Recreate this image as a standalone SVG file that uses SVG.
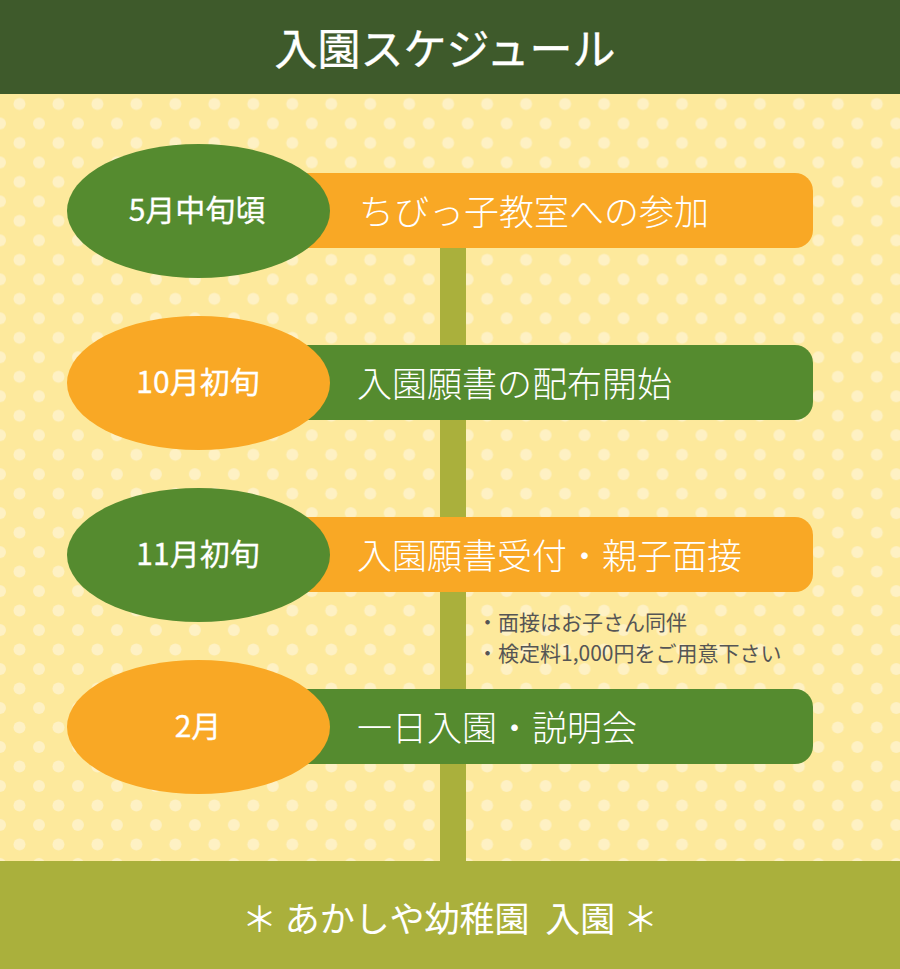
<svg xmlns="http://www.w3.org/2000/svg" width="900" height="969" viewBox="0 0 900 969">
<defs>
<pattern id="dots" patternUnits="userSpaceOnUse" x="0" y="84.5" width="38.97" height="38.97">
<rect width="39" height="39" fill="#fde99c"/>
<circle cx="19.485" cy="19.485" r="6" fill="#fef1c4"/>
<circle cx="0" cy="0" r="6" fill="#fef1c4"/>
<circle cx="38.97" cy="0" r="6" fill="#fef1c4"/>
<circle cx="0" cy="38.97" r="6" fill="#fef1c4"/>
<circle cx="38.97" cy="38.97" r="6" fill="#fef1c4"/>
</pattern>
<style>
.jp{font-family:"Noto Sans CJK JP","Noto Sans",sans-serif;fill:#ffffff}
.title{font-size:43px;font-weight:400;text-anchor:middle;stroke:#ffffff;stroke-width:0.35px}
.date{font-size:30px;font-weight:400;text-anchor:middle;stroke:#ffffff;stroke-width:0.3px}
.event{font-size:35px;font-weight:300}
.note{font-family:"Noto Sans CJK JP","Noto Sans",sans-serif;font-size:21px;fill:#555555}
.green{fill:#558b2f}
.orange{fill:#f9a825}
</style>
</defs>
<rect x="0" y="0" width="900" height="969" fill="url(#dots)"/>
<g id="header">
<rect x="0" y="0" width="900" height="94" fill="#3e5a2b"/>
<text class="jp title" x="445" y="65">入園スケジュール</text>
</g>
<g id="connectors">
<rect x="440" y="240" width="26" height="625" fill="#aab03c"/>
</g>
<g id="footer">
<rect x="0" y="861" width="900" height="108" fill="#aab03c"/>
<text class="jp" font-size="35" x="450" y="932" text-anchor="middle" xml:space="preserve">＊ あかしや幼稚園  入園 ＊</text>
</g>
<g id="step1">
<rect class="orange" x="290" y="173" width="523" height="75" rx="18"/>
<ellipse class="green" cx="198.5" cy="211" rx="131.5" ry="67"/>
<text class="jp date" x="197" y="221">5月中旬頃</text>
<text class="jp event" x="359" y="225">ちびっ子教室への参加</text>
</g>
<g id="step2">
<rect class="green" x="290" y="345" width="523" height="75" rx="18"/>
<ellipse class="orange" cx="198.5" cy="383" rx="131.5" ry="67"/>
<text class="jp date" x="198" y="393">10月初旬</text>
<text class="jp event" x="357" y="397">入園願書の配布開始</text>
</g>
<g id="step3">
<rect class="orange" x="290" y="517" width="523" height="75" rx="18"/>
<ellipse class="green" cx="198.5" cy="555" rx="131.5" ry="67"/>
<text class="jp date" x="198" y="565">11月初旬</text>
<text class="jp event" x="357" y="569">入園願書受付・親子面接</text>
</g>
<g id="notes">
<text class="note" x="477" y="630">・面接はお子さん同伴</text>
<text class="note" x="477" y="661">・検定料1,000円をご用意下さい</text>
</g>
<g id="step4">
<rect class="green" x="290" y="689" width="523" height="75" rx="18"/>
<ellipse class="orange" cx="198.5" cy="727" rx="131.5" ry="67"/>
<text class="jp date" x="198" y="737">2月</text>
<text class="jp event" x="357" y="741">一日入園・説明会</text>
</g>
</svg>
